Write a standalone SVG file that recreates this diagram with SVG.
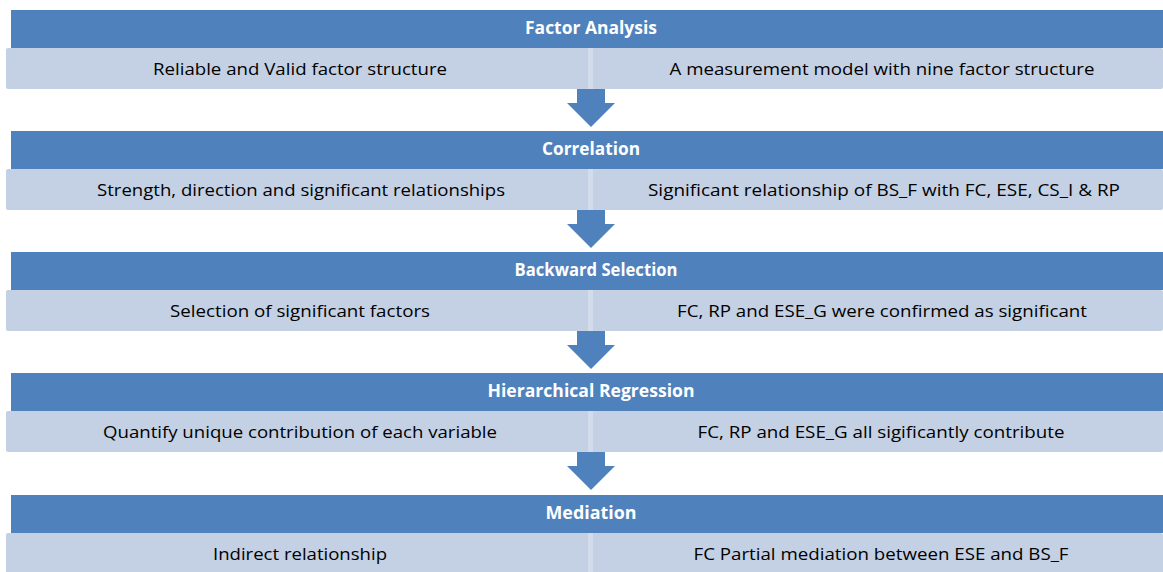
<svg xmlns="http://www.w3.org/2000/svg" width="1163" height="572" viewBox="0 0 1163 572">
<style>
.hd{fill:#4F81BD}
.sb{fill:#C4D0E3}
.dv{fill:#D3DCEA}
.ar{fill:#4F81BD}
.ht{font-family:"Open Sans","Liberation Sans",sans-serif;font-weight:bold;font-size:17px;fill:#FFFFFF;text-anchor:middle}
.st{font-family:"Open Sans","Liberation Sans",sans-serif;font-size:17px;fill:#000000;text-anchor:middle}
</style>
<rect width="1163" height="572" fill="#FFFFFF"/>
<g id="connectors">
<path class="ar" d="M577,88 H605 V103 H615 L591,127 L567,103 H577 Z"/>
<path class="ar" d="M577,209 H605 V224 H615 L591,248 L567,224 H577 Z"/>
<path class="ar" d="M577,330 H605 V345 H615 L591,369 L567,345 H577 Z"/>
<path class="ar" d="M577,451 H605 V466 H615 L591,490 L567,466 H577 Z"/>
</g>
<g id="factor-analysis">
<rect class="hd" x="11" y="10" width="1152" height="38"/>
<text class="ht" x="591" y="34" textLength="132" lengthAdjust="spacingAndGlyphs">Factor Analysis</text>
<rect class="sb" x="6" y="48" width="1157" height="41" rx="2"/>
<rect class="dv" x="588" y="48" width="5" height="41"/>
<text class="st" x="300" y="75" textLength="294" lengthAdjust="spacingAndGlyphs">Reliable and Valid factor structure</text>
<text class="st" x="882" y="75" textLength="425" lengthAdjust="spacingAndGlyphs">A measurement model with nine factor structure</text>
</g>
<g id="correlation">
<rect class="hd" x="11" y="131" width="1152" height="38"/>
<text class="ht" x="591" y="155" textLength="98" lengthAdjust="spacingAndGlyphs">Correlation</text>
<rect class="sb" x="6" y="169" width="1157" height="41" rx="2"/>
<rect class="dv" x="588" y="169" width="5" height="41"/>
<text class="st" x="301" y="196" textLength="408" lengthAdjust="spacingAndGlyphs">Strength, direction and significant relationships</text>
<text class="st" x="884" y="196" textLength="472" lengthAdjust="spacingAndGlyphs">Significant relationship of BS_F with FC, ESE, CS_I &amp; RP</text>
</g>
<g id="backward-selection">
<rect class="hd" x="11" y="252" width="1152" height="38"/>
<text class="ht" x="596" y="276" textLength="163" lengthAdjust="spacingAndGlyphs">Backward Selection</text>
<rect class="sb" x="6" y="290" width="1157" height="41" rx="2"/>
<rect class="dv" x="588" y="290" width="5" height="41"/>
<text class="st" x="300" y="317" textLength="260" lengthAdjust="spacingAndGlyphs">Selection of significant factors</text>
<text class="st" x="882" y="317" textLength="410" lengthAdjust="spacingAndGlyphs">FC, RP and ESE_G were confirmed as significant</text>
</g>
<g id="hierarchical-regression">
<rect class="hd" x="11" y="373" width="1152" height="38"/>
<text class="ht" x="591" y="397" textLength="207" lengthAdjust="spacingAndGlyphs">Hierarchical Regression</text>
<rect class="sb" x="6" y="411" width="1157" height="41" rx="2"/>
<rect class="dv" x="588" y="411" width="5" height="41"/>
<text class="st" x="300" y="438" textLength="394" lengthAdjust="spacingAndGlyphs">Quantify unique contribution of each variable</text>
<text class="st" x="881" y="438" textLength="367" lengthAdjust="spacingAndGlyphs">FC, RP and ESE_G all sigificantly contribute</text>
</g>
<g id="mediation">
<rect class="hd" x="11" y="495" width="1152" height="38"/>
<text class="ht" x="591" y="519" textLength="91" lengthAdjust="spacingAndGlyphs">Mediation</text>
<rect class="sb" x="6" y="533" width="1157" height="41" rx="2"/>
<rect class="dv" x="588" y="533" width="5" height="41"/>
<text class="st" x="300" y="560" textLength="174" lengthAdjust="spacingAndGlyphs">Indirect relationship</text>
<text class="st" x="881" y="560" textLength="375" lengthAdjust="spacingAndGlyphs">FC Partial mediation between ESE and BS_F</text>
</g>
</svg>
